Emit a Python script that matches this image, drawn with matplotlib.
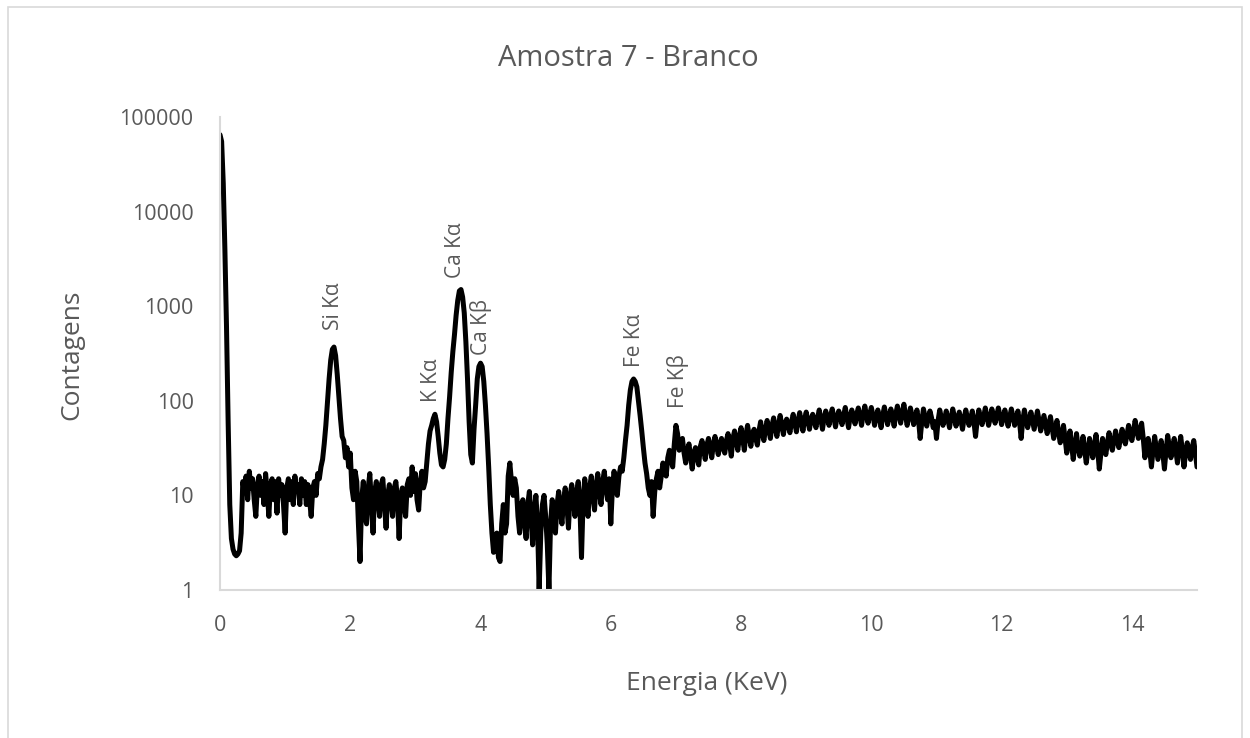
import numpy as np
import matplotlib
matplotlib.use("Agg")
import matplotlib.pyplot as plt
from matplotlib.patches import Rectangle
from matplotlib.ticker import FixedLocator, FixedFormatter, NullLocator

plt.rcParams['font.family'] = ['Open Sans', 'DejaVu Sans']

# Energy grid (keV), step 0.025
energy_step = 0.025

# Counts, one row per 0.5 keV (20 values each)
c_00_0 = [65000, 55000, 20000, 4000, 600, 60, 8, 3.5, 2.7, 2.4, 2.3, 2.4, 2.6, 4, 14, 11, 16, 9, 18, 12]
c_00_5 = [15, 9, 6, 13, 16, 10, 14, 8, 17, 11, 6, 13, 15, 9, 14, 6.5, 15, 10, 13, 8]
c_01_0 = [4, 12, 15, 9, 14, 8, 16, 11, 13, 8, 15, 10, 14, 8, 13, 9, 6, 12, 14, 10]
c_01_5 = [17, 15, 20, 24, 35, 55, 95, 170, 270, 350, 370, 300, 190, 110, 65, 42, 38, 25, 32, 20]
c_02_0 = [28, 12, 9, 18, 14, 5, 2.0, 9, 14, 6, 5, 12, 17, 8, 4, 11, 14, 9, 6, 13]
c_02_5 = [15, 8, 4.5, 10, 13, 9, 6, 12, 14, 9, 3.5, 10, 12, 8, 6, 13, 15, 10, 20, 11]
c_03_0 = [17, 9, 7, 14, 18, 12, 14, 22, 35, 48, 55, 65, 72, 60, 42, 28, 21, 20, 24, 35]
c_03_5 = [65, 110, 200, 330, 500, 800, 1150, 1450, 1500, 1250, 850, 420, 170, 60, 27, 22, 50, 90, 170, 230]
c_04_0 = [250, 230, 160, 90, 45, 20, 8, 4, 2.5, 3.5, 4, 2.2, 2.0, 5, 8, 4, 5, 16, 22, 14]
c_04_5 = [10, 15, 12, 6, 4, 8, 9, 5, 3.5, 8, 11, 6, 3, 7, 10, 5, 1.0, 4, 8, 10]
c_05_0 = [6, 3, 1.0, 5, 9, 7, 4, 8, 11, 7, 5, 9, 12, 8, 4.5, 10, 13, 9, 6, 11]
c_05_5 = [14, 8, 2.2, 9, 15, 10, 6, 12, 16, 10, 7, 13, 17, 11, 8, 14, 18, 12, 9, 15]
c_06_0 = [5, 12, 18, 13, 10, 16, 20, 18, 25, 38, 55, 90, 130, 160, 170, 160, 140, 100, 70, 48]
c_06_5 = [32, 22, 17, 12, 10, 14, 6, 11, 15, 18, 12, 16, 22, 19, 16, 25, 30, 24, 20, 35]
c_07_0 = [55, 45, 30, 36, 40, 28, 22, 30, 35, 26, 19, 28, 32, 25, 21, 33, 38, 30, 24, 34]
c_07_5 = [40, 32, 25, 35, 42, 33, 27, 36, 40, 31, 28, 38, 45, 35, 26, 40, 48, 38, 30, 42]
c_08_0 = [52, 40, 30, 44, 55, 42, 33, 45, 50, 40, 34, 48, 60, 46, 38, 50, 62, 50, 40, 55]
c_08_5 = [66, 52, 42, 56, 70, 55, 44, 58, 64, 54, 46, 60, 72, 58, 47, 62, 75, 60, 48, 64]
c_09_0 = [76, 62, 50, 64, 72, 60, 52, 66, 80, 64, 50, 66, 78, 66, 55, 70, 82, 66, 53, 68]
c_09_5 = [78, 68, 56, 70, 85, 66, 52, 68, 80, 68, 57, 72, 84, 68, 55, 72, 88, 70, 58, 72]
c_10_0 = [85, 70, 55, 68, 80, 66, 52, 70, 86, 70, 56, 68, 82, 68, 54, 72, 88, 72, 58, 75]
c_10_5 = [92, 70, 55, 68, 84, 70, 56, 66, 80, 62, 40, 60, 82, 68, 54, 66, 78, 66, 52, 60]
c_11_0 = [40, 62, 80, 66, 55, 64, 78, 64, 52, 66, 82, 68, 54, 64, 76, 62, 50, 66, 80, 66]
c_11_5 = [55, 64, 78, 60, 42, 62, 80, 66, 56, 68, 84, 68, 55, 66, 82, 70, 58, 70, 84, 70]
c_12_0 = [56, 66, 80, 66, 54, 68, 82, 68, 55, 64, 78, 60, 40, 62, 80, 64, 52, 62, 76, 62]
c_12_5 = [50, 62, 78, 62, 48, 58, 70, 56, 45, 56, 68, 52, 40, 50, 62, 46, 36, 44, 55, 40]
c_13_0 = [28, 36, 48, 34, 24, 34, 45, 32, 26, 32, 42, 30, 22, 30, 40, 32, 25, 34, 44, 30]
c_13_5 = [19, 28, 40, 32, 27, 36, 46, 36, 30, 38, 48, 38, 32, 40, 50, 40, 35, 44, 55, 44]
c_14_0 = [38, 48, 62, 50, 40, 48, 58, 40, 25, 32, 40, 30, 20, 30, 42, 32, 24, 30, 38, 28]
c_14_5 = [19, 30, 43, 33, 25, 32, 40, 30, 22, 32, 42, 30, 20, 28, 36, 30, 24, 32, 38, 28, 20]

counts = (c_00_0 + c_00_5 + c_01_0 + c_01_5 + c_02_0 + c_02_5 + c_03_0 + c_03_5 +
          c_04_0 + c_04_5 + c_05_0 + c_05_5 + c_06_0 + c_06_5 + c_07_0 + c_07_5 +
          c_08_0 + c_08_5 + c_09_0 + c_09_5 + c_10_0 + c_10_5 + c_11_0 + c_11_5 +
          c_12_0 + c_12_5 + c_13_0 + c_13_5 + c_14_0 + c_14_5)
energy = np.arange(len(counts)) * energy_step

# Peak labels
peak_labels = ['Si Kα', 'K Kα', 'Ca Kα', 'Ca Kβ', 'Fe Kα', 'Fe Kβ']
peak_x = [1.74, 3.24, 3.62, 4.01, 6.36, 7.03]
peak_y = [560, 97, 1990, 305, 228, 84]

ytick_vals = [1, 10, 100, 1000, 10000, 100000]
ytick_labels = ['1', '10', '100', '1000', '10000', '100000']
xtick_vals = [0, 2, 4, 6, 8, 10, 12, 14]

gray = '#595959'

fig = plt.figure(figsize=(12.5, 7.38), dpi=100)
ax = fig.add_axes([220/1250, 148/738, (1197-220)/1250, (590-117)/738])

ax.plot(energy, counts, color='black', lw=3.6, solid_joinstyle='round', solid_capstyle='round')
ax.set_yscale('log')
ax.set_xlim(0, 15)
ax.set_ylim(1, 100000)
ax.yaxis.set_major_locator(FixedLocator(ytick_vals))
ax.yaxis.set_major_formatter(FixedFormatter(ytick_labels))
ax.yaxis.set_minor_locator(NullLocator())
ax.set_xticks(xtick_vals)
ax.set_xticklabels([str(v) for v in xtick_vals])
ax.tick_params(axis='both', length=0, labelsize=15.5, colors=gray)
ax.tick_params(axis='x', pad=18)
ax.tick_params(axis='y', pad=19)
for s in ['top', 'right']:
    ax.spines[s].set_visible(False)
for s in ['left', 'bottom']:
    ax.spines[s].set_color('#d9d9d9')
    ax.spines[s].set_linewidth(1.5)

fig.text(707/1250, 1 - 683/738, 'Energia (KeV)', fontsize=19, color=gray, ha='center', va='center')
fig.text(72/1250, 1 - 355/738, 'Contagens', fontsize=19, color=gray, ha='center', va='center', rotation=90)
fig.text(628/1250, 1 - 58/738, 'Amostra 7 - Branco', fontsize=21, color=gray, ha='center', va='center')

for lab, px, py in zip(peak_labels, peak_x, peak_y):
    ax.text(px, py, lab, rotation=90, ha='center', va='bottom', fontsize=15, color=gray)

fig.add_artist(Rectangle((8/1250, -0.01), (1242-8)/1250, 1.01 - 7/738,
                         transform=fig.transFigure, fill=False, edgecolor='#d9d9d9', lw=1.2))

fig.savefig('out.png', dpi=100, facecolor='white')
